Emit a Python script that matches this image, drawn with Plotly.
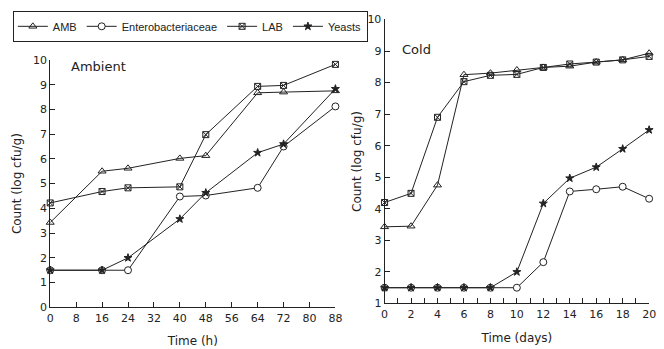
import plotly.graph_objects as go

# Ambient (hours)
amb_t = [0, 16, 24, 40, 48, 64, 72, 88]
amb_AMB = [3.43, 5.5, 5.62, 6.02, 6.13, 8.67, 8.7, 8.75]
amb_ENT = [1.5, 1.5, 1.5, 4.48, 4.52, 4.83, 6.5, 8.12]
amb_LAB = [4.22, 4.68, 4.83, 4.87, 6.98, 8.93, 8.97, 9.82]
amb_YST = [1.5, 1.5, 2.0, 3.57, 4.63, 6.25, 6.6, 8.83]

# Cold (days)
cold_t = [0, 2, 4, 6, 8, 10, 12, 14, 16, 18, 20]
cold_AMB = [3.43, 3.45, 4.75, 8.25, 8.3, 8.4, 8.48, 8.52, 8.65, 8.72, 8.93]
cold_ENT = [1.5, 1.5, 1.5, 1.5, 1.5, 1.5, 2.31, 4.55, 4.62, 4.7, 4.32]
cold_LAB = [4.2, 4.49, 6.9, 8.03, 8.23, 8.26, 8.48, 8.59, 8.65, 8.72, 8.83]
cold_YST = [1.5, 1.5, 1.5, 1.5, 1.5, 2.0, 4.17, 4.97, 5.32, 5.9, 6.5]

names = ["AMB", "Enterobacteriaceae", "LAB", "Yeasts"]
symbols = ["triangle-up-open", "circle", "square-x-open", "star"]
sizes = [7, 7, 6, 6]
fills = ["#222222", "white", "#222222", "#222222"]
INK = "#222222"
FONT = "DejaVu Sans"
LFONT = "Liberation Sans"

fig = go.Figure()
amb_series = [amb_AMB, amb_ENT, amb_LAB, amb_YST]
cold_series = [cold_AMB, cold_ENT, cold_LAB, cold_YST]
for i, nm in enumerate(names):
    mk = dict(symbol=symbols[i], size=sizes[i], color=fills[i],
              line=dict(color=INK, width=1))
    fig.add_trace(go.Scatter(x=amb_t, y=amb_series[i], name=nm, mode="lines+markers",
                             line=dict(color=INK, width=1), marker=mk,
                             xaxis="x", yaxis="y", cliponaxis=False, legendgroup=nm))
    fig.add_trace(go.Scatter(x=cold_t, y=cold_series[i], name=nm, mode="lines+markers",
                             line=dict(color=INK, width=1), marker=mk,
                             xaxis="x2", yaxis="y2", cliponaxis=False, legendgroup=nm,
                             showlegend=False))

W, H = 664, 349
def px_x(p):
    return p / W
def px_y(p):
    return 1 - p / H

axcommon = dict(showgrid=False, zeroline=False, showline=True, linecolor=INK, linewidth=1,
                ticks="inside", ticklen=5, tickcolor=INK, tickwidth=1,
                tickfont=dict(family=FONT, size=11, color=INK),
                title_font=dict(family=FONT, size=12, color=INK))

fig.update_layout(
    width=W, height=H,
    margin=dict(l=0, r=0, t=0, b=0),
    paper_bgcolor="white", plot_bgcolor="white",
    font=dict(family=FONT, color=INK),
    xaxis=dict(domain=[px_x(47), px_x(337)], range=[0, 88], tickmode="array",
               tickvals=list(range(0, 89, 8)), anchor="y",
               title=dict(text="Time (h)", standoff=13), **axcommon),
    yaxis=dict(domain=[px_y(313), px_y(56)], range=[0, 10], dtick=1, anchor="x",
               title=dict(text="Count (log cfu/g)", standoff=8), **axcommon),
    xaxis2=dict(domain=[px_x(387), px_x(656)], range=[0, 20], dtick=2, anchor="y2",
                minor=dict(dtick=1, ticks="inside", ticklen=5, tickcolor=INK),
                title=dict(text="Time (days)", standoff=13), **axcommon),
    yaxis2=dict(domain=[px_y(309), px_y(14)], range=[1, 10], dtick=1, anchor="x2",
                title=dict(text="Count (log cfu/g)", standoff=3), **axcommon),
    legend=dict(orientation="h", x=px_x(9), y=px_y(5), xanchor="left", yanchor="top",
                bordercolor=INK, borderwidth=1, bgcolor="white",
                font=dict(family=LFONT, size=11, color=INK), itemwidth=30,
                tracegroupgap=0),
    annotations=[
        dict(text="Ambient", xref="x domain", yref="y domain", x=0.066, y=0.973,
             xanchor="left", yanchor="middle", showarrow=False,
             font=dict(family=FONT, size=13, color=INK)),
        dict(text="Cold", xref="x2 domain", yref="y2 domain", x=0.059, y=0.896,
             xanchor="left", yanchor="middle", showarrow=False,
             font=dict(family=FONT, size=13, color=INK)),
    ],
)

fig.write_html("out.html", config={"displayModeBar": False},
               post_script="document.body.style.margin='0';document.body.style.overflow='hidden';")
